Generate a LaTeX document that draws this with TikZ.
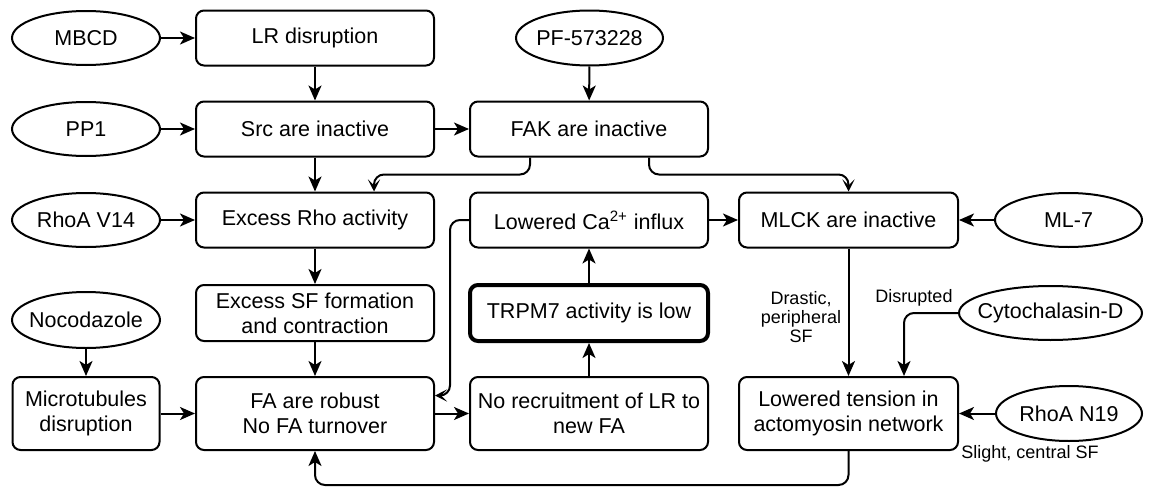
\documentclass[tikz,border=0pt]{standalone}
\usepackage{fontspec}
\setmainfont{Liberation Sans}
\usetikzlibrary{shapes.geometric,arrows.meta,calc}
\newcommand\elltxt[1]{\makebox[0pt]{#1}}
\begin{document}
\begin{tikzpicture}[x=0.5pt,y=-0.5pt,
  box/.style={draw, rounded corners=4pt, line width=1pt, align=center, inner sep=0pt,
    minimum width=119pt, minimum height=27.5pt, font=\fontsize{10.75}{12.5}\selectfont},
  ell/.style={draw, ellipse, line width=1pt, inner sep=0pt, minimum width=74pt,
    minimum height=27pt, font=\fontsize{10.75}{12.5}\selectfont},
  arr/.style={line width=1pt, rounded corners=5pt, -{Stealth[length=7.5pt,width=6.5pt,inset=2pt]}},
  arrs/.style={line width=1pt, rounded corners=5pt, -{Stealth[length=6pt,width=6pt,inset=3pt]}},
  lbl/.style={font=\fontsize{9}{9.5}\selectfont, align=center, inner sep=0pt}
]
\path[use as bounding box] (0,0) rectangle (1152,487);

% row 1
\node[ell] (mbcd) at (86,38) {\elltxt{MBCD}};
\node[box] (lr) at (315,38) {LR disruption};
\node[ell, minimum width=73.5pt, minimum height=27.5pt] (pf) at (589.5,38) {\elltxt{PF-573228}};
% row 2
\node[ell] (pp1) at (86,129) {\elltxt{PP1}};
\node[box] (src) at (315,129) {Src are inactive};
\node[box] (fak) at (589,129) {FAK are inactive};
% row 3
\node[ell] (v14) at (86,220) {\elltxt{RhoA V14}};
\node[box] (rho) at (315,220) {Excess Rho activity};
\node[box] (ca) at (589,220) {Lowered Ca\textsuperscript{2+} influx};
\node[box, minimum width=109.5pt] (mlck) at (848.5,220) {MLCK are inactive};
\node[ell, minimum width=73.5pt] (ml7) at (1068.5,220) {\elltxt{ML-7}};
% row 4
\node[ell, minimum height=28pt] (noc) at (86,320) {\elltxt{Nocodazole}};
\node[box, minimum height=28pt] (sf) at (315,313) {Excess SF formation\\and contraction};
\node[box, minimum height=28pt, line width=2pt] (trpm) at (589,313) {TRPM7 activity is low};
\node[ell, minimum width=91.5pt] (cyto) at (1050.5,313) {\elltxt{Cytochalasin-D}};
% row 5
\node[box, minimum width=73.5pt, minimum height=36.5pt] (mt) at (86,413.5) {Microtubules\\disruption};
\node[box, minimum height=36.5pt] (fa) at (315,413.5) {FA are robust\\No FA turnover};
\node[box, minimum height=36.5pt] (norec) at (589,413.5) {No recruitment of LR to\\new FA};
\node[box, minimum width=109.5pt, minimum height=36.5pt] (ten) at (848.5,413.5) {Lowered tension in\\actomyosin network};
\node[ell, minimum width=73pt, minimum height=27.5pt] (n19) at (1069,413.5) {\elltxt{RhoA N19}};

% labels
\node[lbl] (l1) at (801,317) {Drastic,\\peripheral\\SF};
\node[lbl] (l2) at (914,298) {Disrupted};
\node[lbl] (l3) at (1030,454) {Slight, central SF};

% helper coordinates
\coordinate (fakL) at ($(fak.south)+(-59,0)$);
\coordinate (fakR) at ($(fak.south)+(60,0)$);
\coordinate (rhoT) at ($(rho.north)+(59,0)$);
\coordinate (faR) at ($(fa.east)+(0,-18)$);
\coordinate (tenT) at ($(ten.north)+(55.5,0)$);

% connectors
\draw[arr] (mbcd) -- (lr);
\draw[arr] (pp1) -- (src);
\draw[arr] (v14) -- (rho);
\draw[arr] (lr) -- (src);
\draw[arr] (pf) -- (fak);
\draw[arr] (src) -- (fak);
\draw[arr] (src) -- (rho);
\draw[arrs] (fakL) -- ++(0,17) -| (rhoT);
\draw[arrs] (fakR) -- ++(0,17) -| (mlck.north);
\draw[arrs] (ca.west) -- ++(-19,0) |- (faR);
\draw[arr] (rho) -- (sf);
\draw[arr] (sf) -- (fa);
\draw[arr] (noc) -- (mt);
\draw[arr] (mt) -- (fa);
\draw[arr] (fa) -- (norec);
\draw[arr] (norec) -- (trpm);
\draw[arr] (trpm) -- (ca);
\draw[arr] (ca) -- (mlck);
\draw[arr] (ml7) -- (mlck);
\draw[arr] (mlck) -- (ten);
\draw[arr] (cyto.west) -| (tenT);
\draw[arr] (n19) -- (ten);
\draw[arr] (ten.south) -- ++(0,34) -| (fa.south);
\end{tikzpicture}
\end{document}
